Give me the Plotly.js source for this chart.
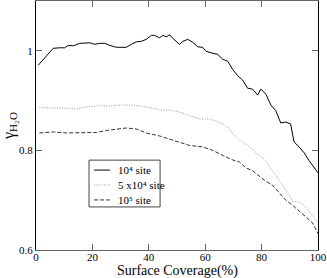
<!DOCTYPE html>
<html><head><meta charset="utf-8">
<script src="https://cdn.plot.ly/plotly-3.0.1.min.js"></script>
<style>html,body{margin:0;padding:0;background:#fff}#c{width:327px;height:278px}</style>
</head><body><div id="c"></div>
<script>
const x1 = [0.8,6.1,8.5,10.2,11.4,13.2,15.5,17.3,19.1,20.8,22.6,24.4,26.1,28.5,30.3,32.0,33.8,35.6,37.3,39.1,40.9,42.0,43.8,45.0,46.2,47.4,48.5,50.9,52.1,53.8,55.6,57.4,59.1,60.3,62.7,64.4,66.2,68.0,69.7,71.5,73.3,75.0,76.8,78.6,79.7,81.5,83.3,85.0,86.8,88.6,90.3,91.5,93.3,95.1,96.8,100];
const y1 = [0.971,1.005,1.006,1.006,1.011,1.010,1.015,1.015,1.016,1.013,1.015,1.015,1.011,1.007,1.007,1.007,1.013,1.018,1.019,1.023,1.031,1.031,1.026,1.031,1.028,1.032,1.025,1.013,1.019,1.023,1.017,1.008,1.007,0.999,0.995,0.993,0.983,0.979,0.963,0.950,0.941,0.925,0.923,0.911,0.923,0.913,0.891,0.880,0.855,0.857,0.853,0.817,0.807,0.795,0.780,0.755];
const x2 = [1.2,4.9,10.8,14.4,17.9,22.6,26.1,29.7,34.4,37.9,41.5,43.8,47.4,50.9,54.4,58.0,61.5,63.8,66.2,68.6,70.3,72.1,74.4,76.8,79.2,81.5,83.3,85.0,87.4,89.8,90.9,93.3,95.6,98.0,100];
const y2 = [0.887,0.885,0.885,0.883,0.887,0.890,0.889,0.891,0.891,0.888,0.885,0.881,0.881,0.877,0.870,0.863,0.863,0.859,0.853,0.843,0.830,0.821,0.813,0.801,0.790,0.780,0.763,0.750,0.730,0.710,0.697,0.697,0.687,0.670,0.655];
const x3 = [1.2,6.1,10.8,16.7,21.4,25.0,28.5,32.0,35.6,39.1,43.8,47.4,50.9,54.4,59.1,62.7,66.2,69.7,72.1,74.4,76.8,79.2,81.5,83.9,86.2,88.6,90.9,93.3,95.6,98.0,100];
const y3 = [0.835,0.837,0.835,0.836,0.836,0.840,0.843,0.845,0.843,0.835,0.829,0.823,0.817,0.810,0.807,0.800,0.790,0.781,0.777,0.765,0.759,0.748,0.738,0.730,0.715,0.700,0.690,0.679,0.667,0.655,0.633];
const names = ["10⁴ site","5 x10⁴ site","10⁵ site"];
const xTicks = [0,20,40,60,80,100];
const yTicks = [0.6,0.8,1.0];
const yTickText = ["0.6","0.8","1"];

const F = "'Liberation Serif', serif";
const colors = ["#000","#999","#333"];
const dashes = ["solid","1px,1.5px","4px,2px"];
const traces = [
  {x:x1,y:y1,name:names[0],mode:"lines",line:{color:colors[0],width:1,dash:dashes[0]}},
  {x:x2,y:y2,name:names[1],mode:"lines",line:{color:colors[1],width:1,dash:dashes[1]}},
  {x:x3,y:y3,name:names[2],mode:"lines",line:{color:colors[2],width:1,dash:dashes[2]}}
];
// custom legend (box, sample lines, labels) in paper coordinates
const legX0 = 0.188, legX1 = 0.440, legY0 = 0.173, legY1 = 0.361;
const rowY = [0.321, 0.261, 0.201];
const shapes = [{type:"rect",xref:"paper",yref:"paper",x0:legX0,x1:legX1,y0:legY0,y1:legY1,
  line:{color:"#444",width:1},fillcolor:"#fff",layer:"above"}];
const annotations = [];
rowY.forEach((ry,i)=>{
  shapes.push({type:"line",xref:"paper",yref:"paper",x0:0.206,x1:0.262,y0:ry,y1:ry,
    line:{color:colors[i],width:1,dash:dashes[i]},layer:"above"});
  annotations.push({text:names[i],xref:"paper",yref:"paper",x:0.284,y:ry,xanchor:"left",yanchor:"middle",
    showarrow:false,font:{family:F,size:11,color:"#000"}});
});
annotations.push({text:"Surface Coverage(%)",xref:"paper",yref:"paper",x:0.5,y:0,yanchor:"top",xanchor:"center",
  yshift:-11,showarrow:false,font:{family:F,size:14,color:"#000"}});

const ax = {showgrid:false,zeroline:false,ticks:"inside",ticklen:6,tickcolor:"#666",mirror:"ticks",showline:true,linecolor:"#666",linewidth:1,tickfont:{family:F,size:11,color:"#000"}};
const layout = {
  width:327,height:278,margin:{l:36,r:9,t:1,b:28},
  paper_bgcolor:"#fff",plot_bgcolor:"#fff",showlegend:false,
  font:{family:F},
  xaxis:Object.assign({},ax,{range:[0,100],tickvals:xTicks,ticklabelstandoff:-3}),
  yaxis:Object.assign({},ax,{range:[0.6,1.1],tickvals:yTicks,ticktext:yTickText,linecolor:"#000",ticklabelstandoff:0,
    title:{text:"γ<sub>H₂O</sub>",font:{family:F,size:16,color:"#000"},standoff:2}}),
  shapes:shapes, annotations:annotations
};
Plotly.newPlot("c",traces,layout,{staticPlot:true});
</script></body></html>
